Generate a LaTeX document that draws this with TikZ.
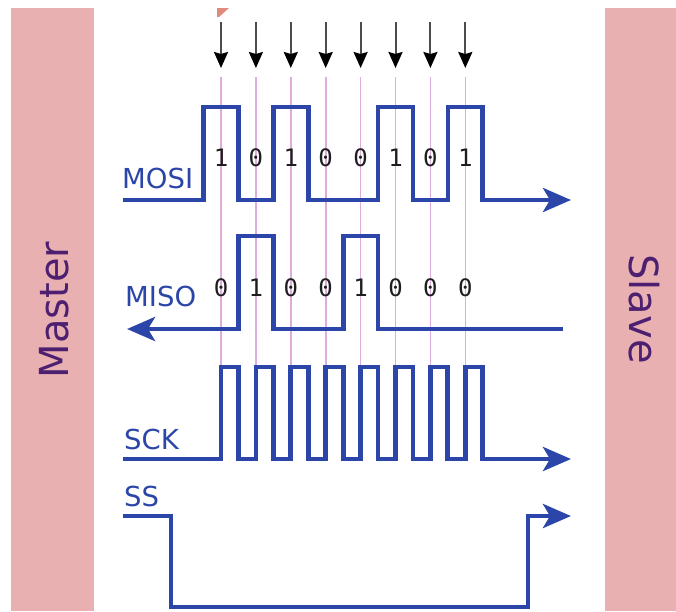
\documentclass[tikz,border=0pt]{standalone}
\usepackage{fontspec}
\setmainfont{DejaVu Sans}
\newfontfamily\bitfont{DejaVu Sans Mono}
\usetikzlibrary{arrows.meta}
\definecolor{sigblue}{HTML}{2B46A8}
\definecolor{barpink}{HTML}{E8B0B1}
\definecolor{labpurple}{HTML}{4C1F70}
\definecolor{guidecol}{HTML}{DEACDE}
\definecolor{markcol}{HTML}{E08A7C}
\definecolor{bitcol}{HTML}{1E1E1E}
\begin{document}
\begin{tikzpicture}[x=1pt,y=-1pt,
  bar/.style={fill=barpink, draw=none, minimum width=#1, minimum height=603pt, inner sep=0pt},
  barlabel/.style={text=labpurple, font=\fontsize{40}{40}\selectfont, inner sep=0pt},
  signal/.style={draw=sigblue, line width=4.8pt, line join=miter},
  sigtip/.style={-{Stealth[length=28pt,width=24pt,inset=7pt]}},
  siglabel/.style={text=sigblue, font=\fontsize{27.5}{27.5}\selectfont, anchor=west, inner sep=0pt},
  guide/.style={draw=guidecol, line width=1.6pt},
  clockarrow/.style={draw=black!70, line width=2pt, -{Stealth[length=16pt,width=14pt,inset=2pt,color=black]}},
  bitlabel/.style={text=bitcol, font=\bitfont\fontsize{24}{24}\selectfont, inner sep=0pt}
]
\useasboundingbox (0,0) rectangle (676,611);
\fill[white] (0,0) rectangle (676,611);

% side bars
\node[bar=83pt] (masterbar) at (52.5,309.5) {};
\node[bar=71pt] (slavebar) at (640.5,309.5) {};
\node[barlabel, rotate=90] (master) at (54,310) {Master};
\node[barlabel, rotate=-90] (slave) at (644,309) {Slave};

% guide lines and clock arrows
\foreach \i in {0,...,7}{
  \pgfmathsetmacro{\xx}{221+34.9*\i}
  \coordinate (gtop\i) at (\xx,77);
  \coordinate (gbot\i) at (\xx,367);
  \coordinate (atop\i) at (\xx,22);
  \coordinate (abot\i) at (\xx,68);
  \draw[guide] (gtop\i) -- (gbot\i);
  \draw[clockarrow] (atop\i) -- (abot\i);
}
\fill[markcol] (217,8) -- (229,8) -- (219,17) -- (217,17) -- cycle;

% MOSI
\coordinate (mosiA) at (123,200);
\coordinate (mosiB) at (571,200);
\draw[signal, sigtip] (mosiA) -- (203.5,200) -- (203.5,107) -- (238.5,107) -- (238.5,200)
  -- (273.4,200) -- (273.4,107) -- (308.3,107) -- (308.3,200)
  -- (378,200) -- (378,107) -- (413,107) -- (413,200)
  -- (447.9,200) -- (447.9,107) -- (482.8,107) -- (482.8,200) -- (mosiB);
\node[siglabel] (mosilabel) at (122,178) {MOSI};

% MISO
\coordinate (misoA) at (563,329);
\coordinate (misoB) at (127,329);
\draw[signal, sigtip] (misoA) -- (378,329) -- (378,236) -- (343.2,236) -- (343.2,329)
  -- (273.4,329) -- (273.4,236) -- (238.5,236) -- (238.5,329) -- (misoB);
\node[siglabel] (misolabel) at (125,296) {MISO};

% SCK
\coordinate (sckA) at (123,459);
\coordinate (sckB) at (571,459);
\draw[signal, sigtip] (sckA)
  \foreach \i in {0,...,7}{
    -- ({221+34.9*\i},459) -- ({221+34.9*\i},367) -- ({238.45+34.9*\i},367) -- ({238.45+34.9*\i},459)
  } -- (sckB);
\node[siglabel] (scklabel) at (124,439) {SCK};

% SS
\coordinate (ssA) at (123,516);
\coordinate (ssB) at (571,516);
\draw[signal, sigtip] (ssA) -- (171,516) -- (171,607) -- (528,607) -- (528,516) -- (ssB);
\node[siglabel] (sslabel) at (124,496) {SS};

% bits
\foreach \b [count=\k from 0] in {1,0,1,0,0,1,0,1}{
  \node[bitlabel] (mosibit\k) at ({221+34.9*\k},158) {\b};
}
\foreach \b [count=\k from 0] in {0,1,0,0,1,0,0,0}{
  \node[bitlabel] (misobit\k) at ({221+34.9*\k},288) {\b};
}
\end{tikzpicture}
\end{document}
